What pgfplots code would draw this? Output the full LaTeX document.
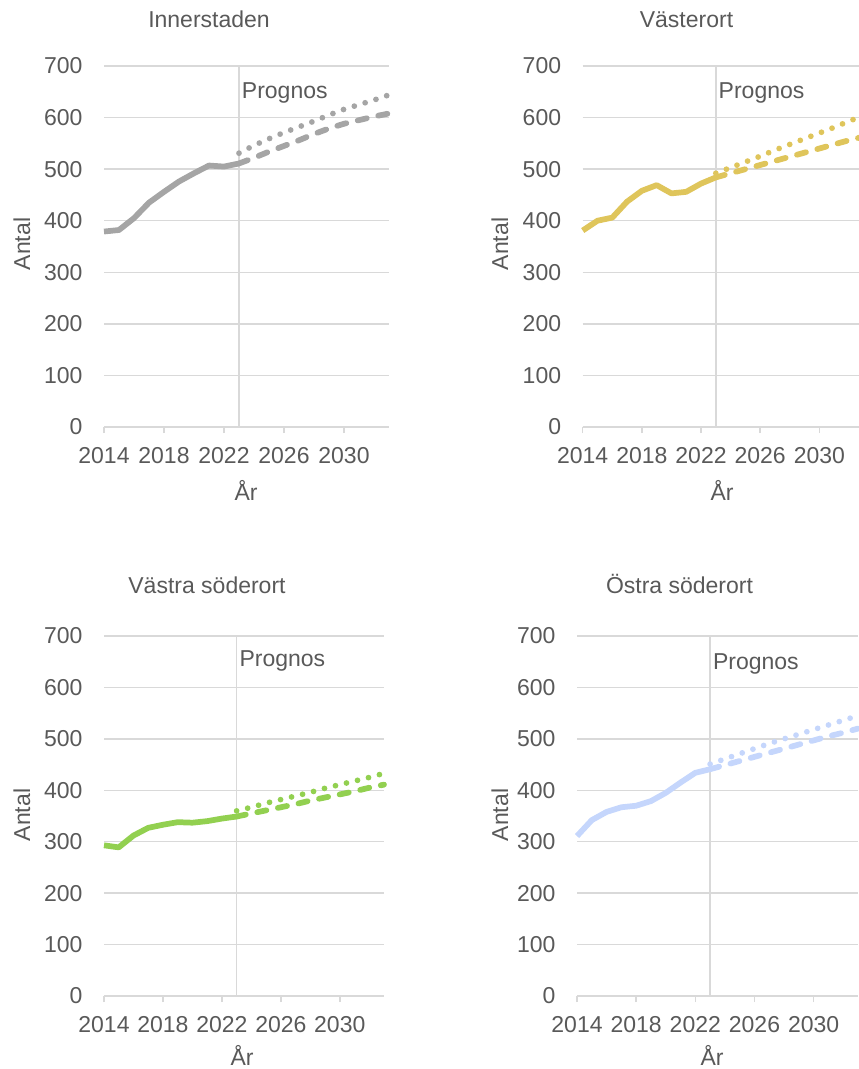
\documentclass[border=0pt]{standalone}
\usepackage{fontspec}
\setmainfont{Liberation Sans}
\usepackage{pgfplots}
\pgfplotsset{compat=1.18}

\definecolor{txt}{HTML}{595959}
\definecolor{gridc}{HTML}{D9D9D9}
\definecolor{cinner}{HTML}{A5A5A5}
\definecolor{cvaster}{HTML}{DFC55B}
\definecolor{cvsod}{HTML}{92D050}
\definecolor{cosod}{HTML}{C5D6FC}

\newcommand{\fs}{\fontsize{17.25}{20}\selectfont}

\pgfplotsset{
  panel/.style={
    scale only axis,
    height=270pt,
    xmin=2014, xmax=2033,
    ymin=0, ymax=700,
    xtick={2014,2018,2022,2026,2030},
    ytick={0,100,...,700},
    axis lines*=left,
    x axis line style={draw=gridc, line width=1.1pt},
    y axis line style={draw=none},
    ymajorgrids,
    grid style={draw=gridc, line width=1.1pt},
    xtick style={draw=gridc, line width=1.1pt},
    ytick style={draw=none},
    xtick align=outside,
    major tick length=4.5pt,
    ytick align=inside,
    /pgf/number format/1000 sep={},
    /pgf/number format/assume math mode=true,
    tick label style={font=\fs, text=txt},
    yticklabel style={anchor=east, inner sep=0pt, xshift=-16pt},
    xticklabel style={anchor=north, inner sep=0pt, yshift=-10.5pt},
    clip=false,
    anchor=south west,
  },
  hist/.style={line width=4.3pt, line join=round},
  dash/.style={line width=4.3pt, line cap=round, dash pattern=on 7pt off 8.8pt},
  dots/.style={line width=4.3pt, line cap=round, dash pattern=on 0pt off 8.5pt},
  vline/.style={draw=gridc, line width=1.1pt},
}

\begin{document}
\begin{tikzpicture}[every node/.style={font=\fs, text=txt}]

% Innerstaden
\begin{axis}[panel, at={(104*0.75pt,-427*0.75pt)}, width=285*0.75pt, height=361*0.75pt]
\addplot[vline] coordinates {(2023,0) (2023,700)};
\addplot[hist, cinner] coordinates {
  (2014,379) (2015,382) (2016,405) (2017,435) (2018,456) (2019,476)
  (2020,492) (2021,507) (2022,505) (2023,511)};
\addplot[dash, cinner] coordinates {
  (2023,511) (2024,522) (2025,534) (2026,545) (2027,556) (2028,568)
  (2029,579) (2030,588) (2031,595) (2032,602) (2033,608)};
\addplot[dots, cinner] coordinates {
  (2023,531) (2024,546) (2025,559) (2026,571) (2027,582) (2028,593)
  (2029,605) (2030,616) (2031,625) (2032,634) (2033,644)};
\node[anchor=base west, inner sep=0pt, xshift=2pt] at (axis cs:2023,637) {Prognos};
\end{axis}

% Västerort
\begin{axis}[panel, at={(582.7*0.75pt,-427*0.75pt)}, width=281*0.75pt, height=361*0.75pt]
\addplot[vline] coordinates {(2023,0) (2023,700)};
\addplot[hist, cvaster] coordinates {
  (2014,381) (2015,400) (2016,406) (2017,437) (2018,458) (2019,469)
  (2020,453) (2021,456) (2022,472) (2023,484)};
\addplot[dash, cvaster] coordinates {
  (2023,484) (2024,492) (2025,500) (2026,508) (2027,516) (2028,524)
  (2029,532) (2030,540) (2031,548) (2032,556) (2033,563)};
\addplot[dots, cvaster] coordinates {
  (2023,492) (2024,503) (2025,514) (2026,525) (2027,537) (2028,548)
  (2029,559) (2030,570) (2031,581) (2032,593) (2033,604)};
\node[anchor=base west, inner sep=0pt, xshift=2pt] at (axis cs:2023,637) {Prognos};
\end{axis}

% Västra söderort
\begin{axis}[panel, at={(104*0.75pt,-996*0.75pt)}, width=280*0.75pt, height=360*0.75pt]
\addplot[vline] coordinates {(2023,0) (2023,700)};
\addplot[hist, cvsod] coordinates {
  (2014,293) (2015,289) (2016,312) (2017,327) (2018,333) (2019,338)
  (2020,337) (2021,340) (2022,345) (2023,349)};
\addplot[dash, cvsod] coordinates {
  (2023,349) (2024,355) (2025,361) (2026,367) (2027,373) (2028,380)
  (2029,386) (2030,392) (2031,398) (2032,405) (2033,411)};
\addplot[dots, cvsod] coordinates {
  (2023,360) (2024,367) (2025,375) (2026,382) (2027,389) (2028,396)
  (2029,404) (2030,411) (2031,418) (2032,425) (2033,433)};
\node[anchor=base west, inner sep=0pt, xshift=2pt] at (axis cs:2023,641) {Prognos};
\end{axis}

% Östra söderort
\begin{axis}[panel, at={(577*0.75pt,-996*0.75pt)}, width=281*0.75pt, height=360*0.75pt]
\addplot[vline] coordinates {(2023,0) (2023,700)};
\addplot[hist, cosod] coordinates {
  (2014,311) (2015,342) (2016,358) (2017,367) (2018,370) (2019,379)
  (2020,395) (2021,415) (2022,434) (2023,441)};
\addplot[dash, cosod] coordinates {
  (2023,441) (2024,449) (2025,457) (2026,465) (2027,473) (2028,481)
  (2029,489) (2030,497) (2031,505) (2032,512) (2033,520)};
\addplot[dots, cosod] coordinates {
  (2023,451) (2024,461) (2025,471) (2026,481) (2027,491) (2028,500)
  (2029,509) (2030,518) (2031,527) (2032,536) (2033,545)};
\node[anchor=base west, inner sep=0pt, xshift=2pt] at (axis cs:2023,635) {Prognos};
\end{axis}

% titles and axis labels
\node[anchor=base] at (209*0.75pt,-27.7*0.75pt) {Innerstaden};
\node[anchor=base] at (686.5*0.75pt,-27.7*0.75pt) {Västerort};
\node[anchor=base] at (207*0.75pt,-593.3*0.75pt) {Västra söderort};
\node[anchor=base] at (679.5*0.75pt,-593.3*0.75pt) {Östra söderort};

\node[rotate=90, inner sep=0pt] at (22*0.75pt,-244*0.75pt) {Antal};
\node[rotate=90, inner sep=0pt] at (500*0.75pt,-244*0.75pt) {Antal};
\node[rotate=90, inner sep=0pt] at (22*0.75pt,-815*0.75pt) {Antal};
\node[rotate=90, inner sep=0pt] at (500*0.75pt,-815*0.75pt) {Antal};

\node[inner sep=0pt] at (246*0.75pt,-490*0.75pt) {År};
\node[inner sep=0pt] at (722*0.75pt,-490*0.75pt) {År};
\node[inner sep=0pt] at (242*0.75pt,-1055*0.75pt) {År};
\node[inner sep=0pt] at (712*0.75pt,-1055*0.75pt) {År};

\pgfresetboundingbox
\useasboundingbox (0,0) rectangle (858*0.75pt,-1069*0.75pt);
\end{tikzpicture}
\end{document}
